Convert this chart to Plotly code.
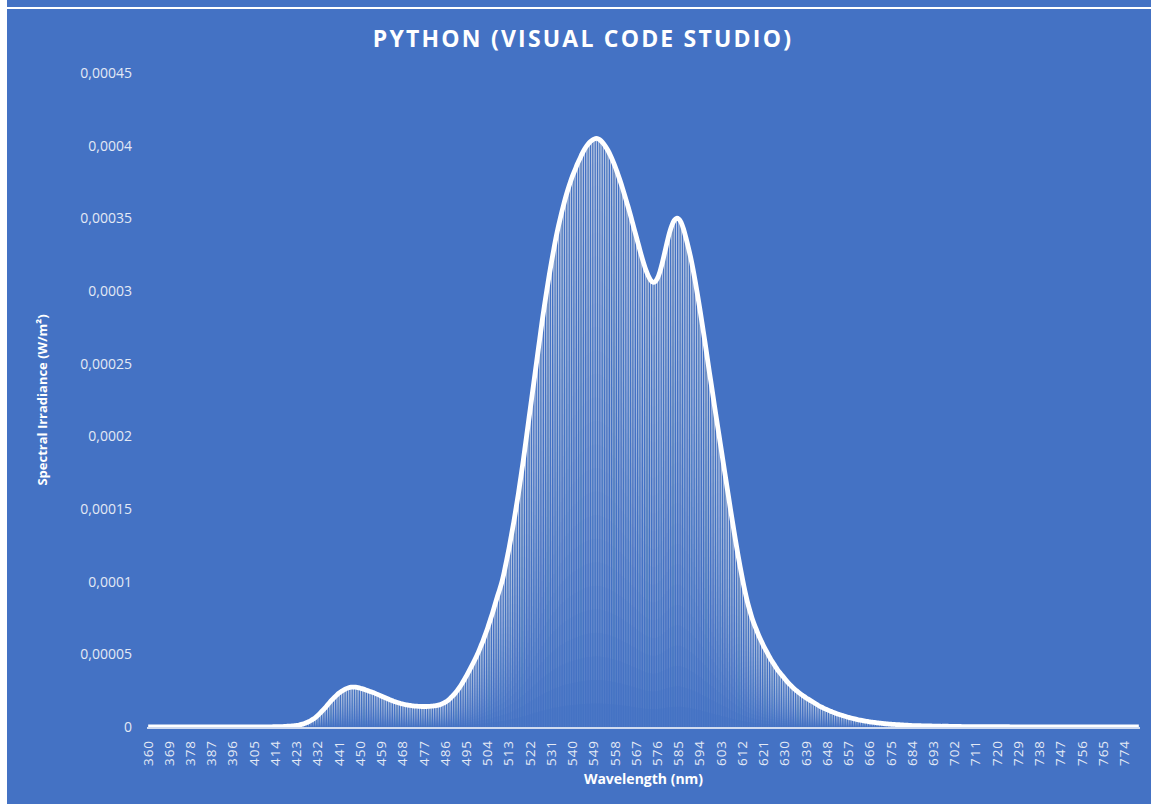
import plotly.graph_objects as go

# ---------------- data ----------------
wavelength_start = 360
wavelength_end = 780
wavelengths = list(range(wavelength_start, wavelength_end + 1))

# spectral irradiance, in 1e-6 W/m², 360 .. 780 nm
irradiance_uW = [
    0, 0, 0, 0, 0, 0, 0, 0, 0, 0,                                   # 360
    0, 0, 0, 0, 0, 0, 0, 0, 0, 0,                                   # 370
    0, 0, 0, 0, 0, 0, 0, 0, 0, 0,                                   # 380
    0, 0, 0, 0, 0, 0, 0, 0, 0, 0,                                   # 390
    0, 0, 0, 0, 0, 0, 0, 0, 0.1, 0.1,                               # 400
    0.1, 0.1, 0.1, 0.2, 0.2, 0.2, 0.3, 0.3, 0.4, 0.5,               # 410
    0.6, 0.7, 0.9, 1.1, 1.4, 1.8, 2.3, 2.9, 3.6, 4.5,               # 420
    5.5, 6.7, 8.1, 9.7, 11.4, 13.2, 15.1, 17.0, 18.8, 20.5,         # 430
    22.0, 23.4, 24.6, 25.6, 26.4, 27.0, 27.4, 27.5, 27.4, 27.1,     # 440
    26.7, 26.2, 25.7, 25.1, 24.5, 23.9, 23.3, 22.6, 21.9, 21.2,     # 450
    20.5, 19.8, 19.1, 18.4, 17.8, 17.2, 16.7, 16.2, 15.8, 15.4,     # 460
    15.1, 14.8, 14.6, 14.4, 14.3, 14.2, 14.1, 14.1, 14.1, 14.2,     # 470
    14.3, 14.5, 14.7, 15.0, 15.5, 16.2, 17.1, 18.2, 19.6, 21.2,     # 480
    23.0, 25.0, 27.3, 29.8, 32.5, 35.4, 38.4, 41.5, 44.7, 48.0,     # 490
    51.5, 55.5, 59.5, 64.0, 68.5, 73.5, 78.5, 84.0, 89.5, 94.5,     # 500
    100, 107, 115, 123, 132, 141, 151, 161, 172, 183,               # 510
    195, 207, 219, 231, 243, 255, 267, 279, 290, 300.5,             # 520
    310.5, 320, 329, 337.5, 345, 352, 358.5, 364.5, 370, 375,       # 530
    379.5, 383.5, 387.5, 391, 394.5, 397.5, 400, 402, 403.5, 404.5, # 540
    405, 404.5, 403.3, 401.5, 399.2, 396.5, 393.2, 389.5, 385.5, 381,   # 550
    376.3, 371.3, 366, 360.5, 355, 349, 343, 337, 331, 325,         # 560
    319.5, 314.5, 310.5, 307.5, 306, 306.5, 309, 313.5, 319.5, 326.5,   # 570
    333.5, 340, 345, 348.5, 350, 349.5, 347, 342.5, 336.5, 330,     # 580
    323, 315, 306, 296.5, 286.5, 276, 265.5, 254.5, 243.5, 233,     # 590
    222, 211.5, 201, 190.5, 180, 169.5, 159, 148.5, 138.5, 128.5,   # 600
    119, 110, 101.5, 93.5, 86.5, 80.5, 75, 70.5, 66.5, 62.5,        # 610
    59, 55.5, 52.5, 49.5, 46.5, 44, 41.5, 39, 37, 35,               # 620
    33, 31, 29.3, 27.7, 26.2, 24.8, 23.5, 22.3, 21.1, 20,           # 630
    19, 18, 17, 16, 15, 14.1, 13.3, 12.5, 11.8, 11.1,               # 640
    10.4, 9.8, 9.2, 8.6, 8.1, 7.6, 7.1, 6.6, 6.2, 5.8,              # 650
    5.4, 5.0, 4.7, 4.4, 4.1, 3.8, 3.5, 3.3, 3.1, 2.9,               # 660
    2.7, 2.5, 2.3, 2.2, 2.0, 1.9, 1.8, 1.7, 1.6, 1.5,               # 670
    1.4, 1.3, 1.2, 1.1, 1.0, 1.0, 0.9, 0.9, 0.8, 0.8,               # 680
    0.7, 0.7, 0.7, 0.6, 0.6, 0.6, 0.5, 0.5, 0.5, 0.5,               # 690
    0.4, 0.4, 0.4, 0.4, 0.4, 0.3, 0.3, 0.3, 0.3, 0.3,               # 700
    0.3, 0.3, 0.3, 0.2, 0.2, 0.2, 0.2, 0.2, 0.2, 0.2,               # 710
    0.2, 0.2, 0.2, 0.2, 0.2, 0.2, 0.1, 0.1, 0.1, 0.1,               # 720
    0.1, 0.1, 0.1, 0.1, 0.1, 0.1, 0.1, 0.1, 0.1, 0.1,               # 730
    0.1, 0.1, 0.1, 0.1, 0.1, 0.1, 0.1, 0.1, 0.1, 0.1,               # 740
    0.1, 0.1, 0.1, 0.1, 0.1, 0.1, 0.1, 0.1, 0.1, 0.1,               # 750
    0.1, 0.1, 0.1, 0.1, 0.1, 0.1, 0.1, 0.1, 0.1, 0.1,               # 760
    0.1, 0.1, 0.1, 0.1, 0.1, 0.1, 0.1, 0.1, 0.1, 0.1, 0.1,          # 770
]
irradiance = [v * 1e-6 for v in irradiance_uW]

x_tick_values = list(range(360, 775, 9))
x_tick_labels = [str(v) for v in x_tick_values]

y_tick_values = [0, 0.00005, 0.0001, 0.00015, 0.0002, 0.00025, 0.0003, 0.00035, 0.0004, 0.00045]
y_tick_labels = ["0", "0,00005", "0,0001", "0,00015", "0,0002", "0,00025",
                 "0,0003", "0,00035", "0,0004", "0,00045"]

title_text = "PYTHON (VISUAL CODE STUDIO)"
x_title = "Wavelength (nm)"
y_title = "Spectral Irradiance (W/m²)"

# ---------------- style ----------------
BG = "#4472C4"
FONT = "Open Sans"
TICK_COLOR = "#e3e9f5"
W, H = 1151, 804
ML, MR, MT, MB = 147, 11, 73, 77

fig = go.Figure()

# bars with a vertical per-bar gradient (many thin translucent layers)
N_LAYERS = 25
for j in range(N_LAYERS):
    frac = j / N_LAYERS
    fig.add_trace(go.Bar(
        x=wavelengths,
        y=[v * (1 - frac) for v in irradiance],
        base=[v * frac for v in irradiance],
        marker=dict(color="rgba(255,255,255,0.045)", line=dict(width=0)),
        hoverinfo="skip",
        showlegend=False,
    ))

# smooth white outline
fig.add_trace(go.Scatter(
    x=wavelengths, y=irradiance, mode="lines",
    line=dict(color="white", width=4.8, shape="spline", smoothing=1),
    hoverinfo="skip", showlegend=False,
))

pw = W - ML - MR
ph = H - MT - MB


def px_x(p):
    return (p - ML) / pw


def px_y(p):
    return (H - MB - p) / ph


fig.update_layout(
    width=W, height=H,
    margin=dict(l=ML, r=MR, t=MT, b=MB),
    paper_bgcolor=BG, plot_bgcolor=BG,
    barmode="overlay", bargap=0.5,
    showlegend=False,
    font=dict(family=FONT, color=TICK_COLOR),
    title=dict(
        text="<b>" + title_text + "</b>",
        x=583 / W, xanchor="center", xref="container",
        y=1 - 39 / H, yanchor="middle", yref="container",
        font=dict(family=FONT, size=23, color="white"),
    ),
    xaxis=dict(
        range=[359.5, 780.5],
        tickmode="array", tickvals=x_tick_values, ticktext=x_tick_labels,
        tickangle=-90, tickfont=dict(size=13.5, color=TICK_COLOR, family=FONT),
        showgrid=False, zeroline=False,
        showline=True, linecolor="rgba(255,255,255,0.75)", linewidth=1.5,
        ticks="", ticklabelstandoff=6,
        title=dict(text="<b>" + x_title + "</b>", standoff=12,
                   font=dict(size=14, color="white", family=FONT)),
    ),
    yaxis=dict(
        range=[0, 0.00045],
        tickmode="array", tickvals=y_tick_values, ticktext=y_tick_labels,
        tickfont=dict(size=14, color=TICK_COLOR, family=FONT),
        showgrid=False, zeroline=False, showline=False, ticks="",
        ticklabelstandoff=14,
        title=dict(text="<b>" + y_title + "</b>", standoff=29,
                   font=dict(size=13, color="white", family=FONT)),
    ),
    shapes=[
        dict(type="rect", xref="paper", yref="paper",
             x0=px_x(0), x1=px_x(7), y0=px_y(H), y1=px_y(0),
             fillcolor="white", line=dict(width=0), layer="above"),
        dict(type="line", xref="paper", yref="paper",
             x0=px_x(7), x1=px_x(W), y0=px_y(8), y1=px_y(8),
             line=dict(color="white", width=2), layer="above"),
    ],
)

post_js = (
    "document.body.style.margin='0';"
    "var t=document.querySelector('.gtitle'); if(t) t.style.letterSpacing='2.2px';"
    "document.querySelectorAll('.xtick text').forEach(function(e)"
    "{ e.style.letterSpacing='1px'; });"
)

fig.write_html("out.html", post_script=post_js,
               config={"displayModeBar": False, "staticPlot": True})
